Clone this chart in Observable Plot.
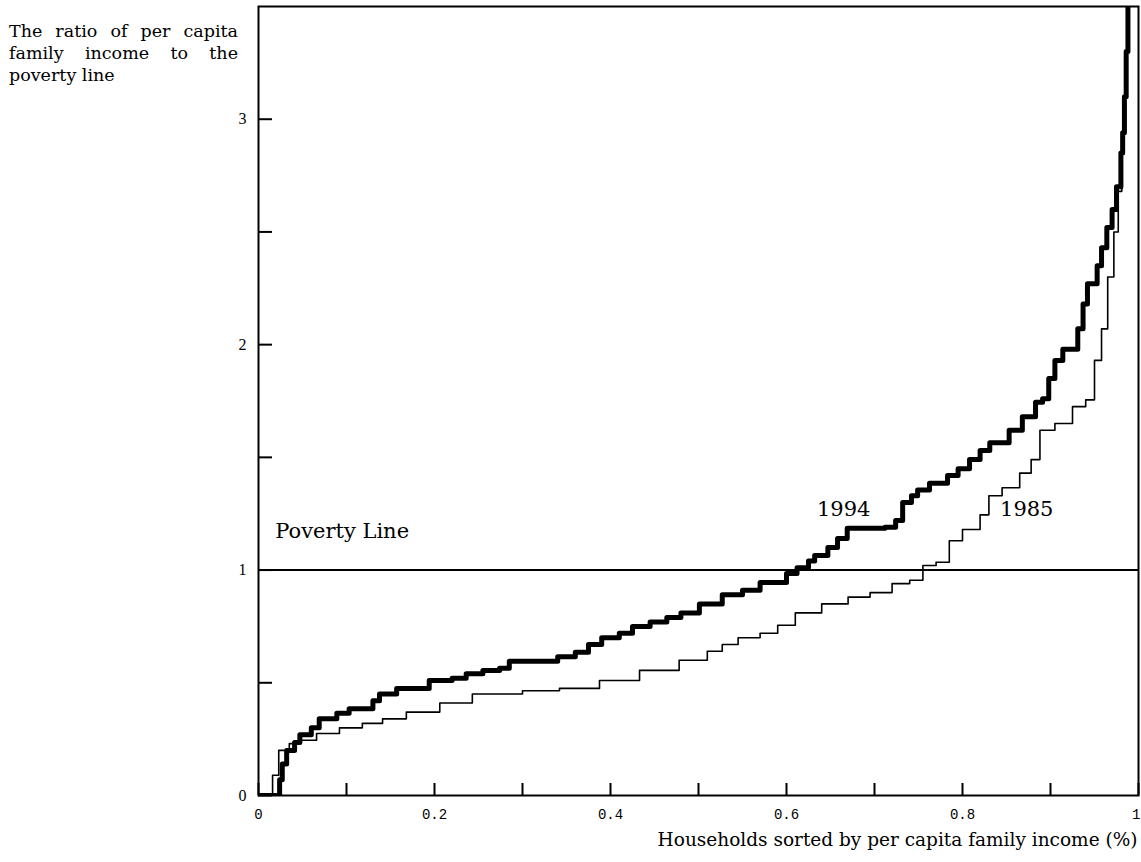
<!DOCTYPE html>
<html><head><meta charset="utf-8">
<script src="https://cdn.jsdelivr.net/npm/d3@7"></script>
<script src="https://cdn.jsdelivr.net/npm/@observablehq/plot@0.6"></script>
<style>
body{margin:0;background:#fff;}
#wrap{position:relative;width:1141px;height:862px;overflow:hidden;}
#ytitle{position:absolute;left:9px;top:20px;width:229px;font-family:"DejaVu Serif";font-size:17.5px;line-height:22px;color:#000;}
#ytitle div{text-align:justify;text-align-last:justify;}
#ytitle div.last{text-align-last:left;}
#chart{position:absolute;left:0;top:0;}
</style></head>
<body>
<div id="wrap">
<div id="chart"></div>
<div id="ytitle"></div>
</div>
<script>
// Y axis title lines
const yTitleLines = ["The ratio of per capita", "family income to the", "poverty line"];
const xTitle = "Households sorted by per capita family income (%)";

// 1994 series (share of households, ratio to poverty line)
const x1994 = [0, 0.024, 0.027, 0.032, 0.041, 0.047, 0.060, 0.069, 0.089, 0.103, 0.130, 0.1375, 0.157, 0.194, 0.220, 0.236, 0.255, 0.274, 0.285, 0.340, 0.360, 0.375, 0.390, 0.410, 0.425, 0.445, 0.464, 0.480, 0.501, 0.527, 0.550, 0.570, 0.600, 0.612, 0.625, 0.632, 0.647, 0.658, 0.669, 0.712, 0.724, 0.732, 0.742, 0.749, 0.7625, 0.783, 0.795, 0.808, 0.820, 0.831, 0.853, 0.868, 0.883, 0.891, 0.898, 0.905, 0.914, 0.931, 0.937, 0.942, 0.953, 0.958, 0.964, 0.970, 0.975, 0.980, 0.982, 0.984, 0.986, 0.988];
const y1994 = [0, 0.07, 0.14, 0.20, 0.235, 0.27, 0.30, 0.34, 0.365, 0.385, 0.42, 0.45, 0.475, 0.51, 0.52, 0.54, 0.555, 0.565, 0.595, 0.615, 0.635, 0.67, 0.70, 0.72, 0.75, 0.77, 0.79, 0.81, 0.85, 0.89, 0.91, 0.945, 0.985, 1.01, 1.04, 1.065, 1.10, 1.14, 1.185, 1.19, 1.22, 1.30, 1.33, 1.355, 1.385, 1.42, 1.45, 1.49, 1.53, 1.565, 1.62, 1.68, 1.745, 1.76, 1.85, 1.93, 1.98, 2.07, 2.18, 2.27, 2.35, 2.43, 2.52, 2.60, 2.70, 2.85, 2.94, 3.10, 3.30, 3.60];

// 1985 series
const x1985 = [0, 0.016, 0.019, 0.023, 0.035, 0.047, 0.066, 0.092, 0.118, 0.141, 0.168, 0.206, 0.243, 0.300, 0.342, 0.3875, 0.433, 0.478, 0.510, 0.527, 0.545, 0.570, 0.590, 0.610, 0.640, 0.670, 0.695, 0.720, 0.740, 0.755, 0.770, 0.785, 0.800, 0.820, 0.830, 0.845, 0.865, 0.878, 0.888, 0.905, 0.925, 0.940, 0.950, 0.958, 0.965, 0.972, 0.977, 0.981, 0.985, 0.987];
const y1985 = [0, 0.09, 0.09, 0.20, 0.23, 0.245, 0.275, 0.30, 0.32, 0.34, 0.37, 0.41, 0.45, 0.465, 0.475, 0.51, 0.555, 0.60, 0.64, 0.67, 0.70, 0.72, 0.755, 0.81, 0.85, 0.88, 0.90, 0.94, 0.955, 1.02, 1.035, 1.13, 1.18, 1.245, 1.33, 1.365, 1.43, 1.49, 1.62, 1.65, 1.725, 1.755, 1.93, 2.07, 2.30, 2.50, 2.68, 2.94, 3.30, 3.60];

const povertyLevel = [1];
const xMinorTicks = [0, 0.1, 0.2, 0.3, 0.4, 0.5, 0.6, 0.7, 0.8, 0.9, 1];
const xLabelTicks = [0, 0.2, 0.4, 0.6, 0.8];
const xEndTick = [1];
const yMinorTicks = [0, 0.5, 1, 1.5, 2, 2.5, 3];
const yLabelTicks = [0, 1, 2, 3];

const seriesLabels = [
  {name: "1994", x: 0.665, y: 1.27},
  {name: "1985", x: 0.873, y: 1.27}
];
const povertyLabel = [{name: "Poverty Line", x: 0.019, y: 1.17}];

const d1994 = x1994.map((x, i) => ({x, y: y1994[i]}));
const d1985 = x1985.map((x, i) => ({x, y: y1985[i]}));

document.getElementById("ytitle").innerHTML =
  yTitleLines.map((t, i) => `<div class="${i === yTitleLines.length - 1 ? "last" : ""}">${t}</div>`).join("");

const fmt = d => String(d);

const chart = Plot.plot({
  width: 1141,
  height: 862,
  marginLeft: 258,
  marginRight: 3,
  marginTop: 6,
  marginBottom: 67,
  x: {domain: [0, 1]},
  y: {domain: [0, 3.5]},
  style: {fontFamily: "DejaVu Serif", color: "#000", background: "#fff"},
  marks: [
    Plot.frame({stroke: "#000", strokeWidth: 2}),
    Plot.ruleY(povertyLevel, {stroke: "#000", strokeWidth: 2}),
    Plot.line(d1985, {x: "x", y: "y", curve: "step-after", stroke: "#000", strokeWidth: 1.6, clip: true}),
    Plot.line(d1994, {x: "x", y: "y", curve: "step-after", stroke: "#000", strokeWidth: 5, clip: true}),
    Plot.axisX({ticks: xMinorTicks, tickSize: -12, text: null, stroke: "#000", strokeWidth: 2, label: null}),
    Plot.axisX({ticks: xLabelTicks, tickSize: 0, tickPadding: 14, tickFormat: fmt, fill: "#000", fontFamily: "Liberation Mono", fontSize: 14, label: null}),
    Plot.axisX({ticks: xEndTick, tickSize: 0, tickPadding: 14, tickFormat: fmt, textAnchor: "end", dx: 2, fill: "#000", fontFamily: "Liberation Mono", fontSize: 14, label: null}),
    Plot.axisY({ticks: yMinorTicks, tickSize: -14, text: null, stroke: "#000", strokeWidth: 2, label: null}),
    Plot.axisY({ticks: yLabelTicks, tickSize: 0, tickPadding: 12, tickFormat: fmt, fill: "#000", fontFamily: "Liberation Serif", fontSize: 16, label: null}),
    Plot.text(povertyLabel, {x: "x", y: "y", text: "name", textAnchor: "start", fontSize: 21, fontFamily: "DejaVu Serif", fill: "#000"}),
    Plot.text(seriesLabels, {x: "x", y: "y", text: "name", fontSize: 21, fontFamily: "DejaVu Serif", fill: "#000"}),
    Plot.text([xTitle], {frameAnchor: "bottom-right", dy: 50, dx: -1, text: d => d, textAnchor: "end", fontSize: 18.5, fontFamily: "DejaVu Serif", fill: "#000"})
  ]
});
document.getElementById("chart").appendChild(chart);
</script>
</body></html>
